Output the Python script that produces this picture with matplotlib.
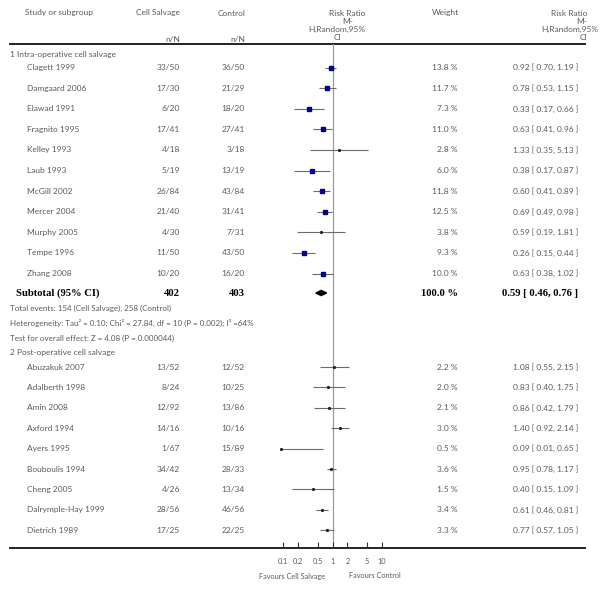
import matplotlib
matplotlib.use("Agg")
import matplotlib.pyplot as plt
import numpy as np

# ---------------- data ----------------
g1_studies = ["Clagett 1999", "Damgaard 2006", "Elawad 1991", "Fragnito 1995", "Kelley 1993",
              "Laub 1993", "McGill 2002", "Mercer 2004", "Murphy 2005", "Tempe 1996", "Zhang 2008"]
g1_cs = ["33/50", "17/30", "6/20", "17/41", "4/18", "5/19", "26/84", "21/40", "4/30", "11/50", "10/20"]
g1_ctl = ["36/50", "21/29", "18/20", "27/41", "3/18", "13/19", "43/84", "31/41", "7/31", "43/50", "16/20"]
g1_weight = [13.8, 11.7, 7.3, 11.0, 2.8, 6.0, 11.8, 12.5, 3.8, 9.3, 10.0]
g1_rr = [0.92, 0.78, 0.33, 0.63, 1.33, 0.38, 0.60, 0.69, 0.59, 0.26, 0.63]
g1_lo = [0.70, 0.53, 0.17, 0.41, 0.35, 0.17, 0.41, 0.49, 0.19, 0.15, 0.38]
g1_hi = [1.19, 1.15, 0.66, 0.96, 5.13, 0.87, 0.89, 0.98, 1.81, 0.44, 1.02]

sub_cs, sub_ctl = "402", "403"
sub_weight = 100.0
sub_rr, sub_lo, sub_hi = 0.59, 0.46, 0.76

g2_studies = ["Abuzakuk 2007", "Adalberth 1998", "Amin 2008", "Axford 1994", "Ayers 1995",
              "Bouboulis 1994", "Cheng 2005", "Dalrymple-Hay 1999", "Dietrich 1989"]
g2_cs = ["13/52", "8/24", "12/92", "14/16", "1/67", "34/42", "4/26", "28/56", "17/25"]
g2_ctl = ["12/52", "10/25", "13/86", "10/16", "15/89", "28/33", "13/34", "46/56", "22/25"]
g2_weight = [2.2, 2.0, 2.1, 3.0, 0.5, 3.6, 1.5, 3.4, 3.3]
g2_rr = [1.08, 0.83, 0.86, 1.40, 0.09, 0.95, 0.40, 0.61, 0.77]
g2_lo = [0.55, 0.40, 0.42, 0.92, 0.01, 0.78, 0.15, 0.46, 0.57]
g2_hi = [2.15, 1.75, 1.79, 2.14, 0.65, 1.17, 1.09, 0.81, 1.05]

tick_vals = [0.1, 0.2, 0.5, 1, 2, 5, 10]
tick_labels = ["0.1", "0.2", "0.5", "1", "2", "5", "10"]

# ---------------- layout ----------------
W, H = 600, 593
fig = plt.figure(figsize=(W / 100, H / 100), dpi=100)
base = fig.add_axes([0, 0, 1, 1])
base.set_xlim(0, W)
base.set_ylim(H, 0)
base.axis("off")

FONT = "Lato"
TC = "#5a5a5a"
FS = 6.0
SERIF = "Liberation Serif"

# forest axes: log x, pixel y
x_one, px_dec = 332.5, 49.5
xmin, xmax = 0.088, 12.0
L = x_one + px_dec * np.log10(xmin)
R = x_one + px_dec * np.log10(xmax)
top_px, bot_px = 44, 548
ax = fig.add_axes([L / W, (H - bot_px) / H, (R - L) / W, (bot_px - top_px) / H])
ax.set_xscale("log")
ax.set_xlim(xmin, xmax)
ax.set_ylim(bot_px, top_px)
for s in ax.spines.values():
    s.set_visible(False)
ax.set_yticks([])
ax.set_xticks(tick_vals)
ax.set_xticklabels(tick_labels, fontsize=5.3, color=TC, family=FONT)
ax.xaxis.set_minor_locator(matplotlib.ticker.NullLocator())
ax.tick_params(axis="x", direction="in", length=4, width=0.8, color="#333333", pad=7)
ax.patch.set_alpha(0)
ax.axvline(1, color="#9a9a9a", lw=0.9, zorder=1)

# row y positions (pixels)
y_head1 = 55
y_g1 = list(67.5 + 20.6 * np.arange(len(g1_studies)))
y_sub = 293
y_tot, y_het, y_test = 308, 323, 338
y_head2 = 352
y_g2 = list(367 + 20.4 * np.arange(len(g2_studies)))


def t(x, y, s, ha="left", **kw):
    kw.setdefault("fontsize", FS)
    kw.setdefault("color", TC)
    kw.setdefault("family", FONT)
    base.text(x, y, s, ha=ha, va="center", **kw)


# header
t(25, 13, "Study or subgroup")
t(180, 13, "Cell Salvage", ha="right")
t(246, 13, "Control", ha="right")
t(180, 40, "n/N", ha="right")
t(245, 40, "n/N", ha="right")
t(347, 13, "Risk Ratio", ha="center")
t(348, 21, "M-", ha="center")
t(337, 29, "H,Random,95%", ha="center")
t(338, 38, "CI", ha="center")
t(445, 13, "Weight", ha="center")
t(569, 13, "Risk Ratio", ha="center")
t(582, 21, "M-", ha="center")
t(570, 29, "H,Random,95%", ha="center")
t(583, 38, "CI", ha="center")

base.plot([10, 585], [44, 44], color="#222222", lw=1.4)
base.plot([10, 585], [548, 548], color="#222222", lw=1.4)

t(10, y_head1, "1 Intra-operative cell salvage")
t(10, y_head2, "2 Post-operative cell salvage")


def draw_group(studies, cs, ctl, wt, rr, lo, hi, ys):
    for i in range(len(studies)):
        y = ys[i]
        t(27, y, studies[i])
        t(180, y, cs[i], ha="right")
        t(245, y, ctl[i], ha="right")
        t(458, y, f"{wt[i]:.1f} %", ha="right")
        t(578, y, f"{rr[i]:.2f} [ {lo[i]:.2f}, {hi[i]:.2f} ]", ha="right")
        ax.plot([max(lo[i], xmin), hi[i]], [y, y], color="#6a6a70", lw=0.8, zorder=2,
                solid_capstyle="butt")
        if wt[i] >= 5:
            ax.plot(rr[i], y, marker="s", ms=3.4, color="#00008b", mec="#00008b", zorder=3)
        else:
            ax.plot(rr[i], y, marker="o", ms=1.3, color="#222222", mec="#222222", zorder=3)


draw_group(g1_studies, g1_cs, g1_ctl, g1_weight, g1_rr, g1_lo, g1_hi, y_g1)
draw_group(g2_studies, g2_cs, g2_ctl, g2_weight, g2_rr, g2_lo, g2_hi, y_g2)

# subtotal
bold = dict(family=SERIF, fontsize=7.7, weight="bold", color="black")
t(16, y_sub, "Subtotal (95% CI)", **bold)
t(180, y_sub, sub_cs, ha="right", **bold)
t(245, y_sub, sub_ctl, ha="right", **bold)
t(458, y_sub, f"{sub_weight:.1f} %", ha="right", **bold)
t(578, y_sub, f"{sub_rr:.2f} [ {sub_lo:.2f}, {sub_hi:.2f} ]", ha="right", **bold)
ax.fill([sub_lo, sub_rr, sub_hi, sub_rr], [y_sub, y_sub - 2.6, y_sub, y_sub + 2.6],
        color="black", zorder=3)

t(10, y_tot, "Total events: 154 (Cell Salvage), 258 (Control)", fontsize=5.8)
t(10, y_het, "Heterogeneity: Tau² = 0.10; Chi² = 27.84, df = 10 (P = 0.002); I² =64%", fontsize=5.8)
t(10, y_test, "Test for overall effect: Z = 4.08 (P = 0.000044)", fontsize=5.8)

t(325, 576, "Favours Cell Salvage", ha="right", fontsize=5.3)
t(349, 576, "Favours Control", ha="left", fontsize=5.3)

fig.savefig("out.png", dpi=100)
